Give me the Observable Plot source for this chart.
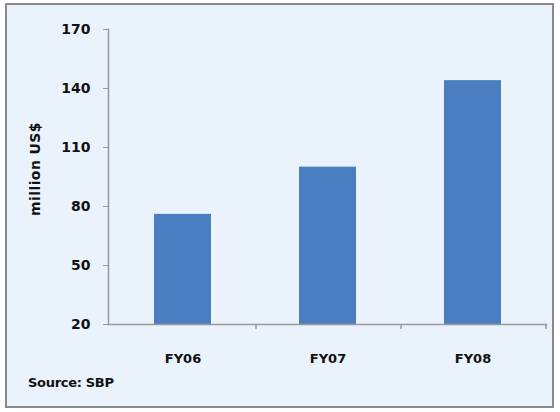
<!DOCTYPE html>
<html>
<head>
<meta charset="utf-8">
<script src="https://cdn.jsdelivr.net/npm/d3@7"></script>
<script src="https://cdn.jsdelivr.net/npm/@observablehq/plot@0.6"></script>
<style>
  html, body { margin: 0; padding: 0; background: #ffffff; }
  #wrap { position: relative; width: 560px; height: 412px; overflow: hidden; }
  #panel { position: absolute; left: 5px; top: 3px; width: 545px; height: 401px;
           border: 2px solid #8a8a8a; background: #eaf2fb; }
  #chart { position: absolute; left: 0; top: 0; }
  #source { position: absolute; left: 28px; top: 375px; font: bold 13px "DejaVu Sans", sans-serif;
            color: #111; letter-spacing: -0.3px; }
  #ylabel { position: absolute; left: 35px; top: 169px; transform: translate(-50%, -50%) rotate(-90deg);
            font: bold 14px "DejaVu Sans", sans-serif; color: #111; white-space: nowrap; letter-spacing: 0.4px; }
</style>
</head>
<body>
<div id="wrap">
  <div id="panel"></div>
  <div id="chart"></div>
  <div id="ylabel">million US$</div>
  <div id="source">Source: SBP</div>
</div>
<script>
const categories = ["FY06", "FY07", "FY08"];
const values = [76, 100, 144];
const yTicks = [20, 50, 80, 110, 140, 170];

const data = categories.map((c, i) => ({cat: c, value: values[i]}));

const W = 560, H = 412, mL = 108, mR = 14, mT = 29, mB = 88;
const step = (W - mL - mR) / categories.length;
const tickUnits = 5 * (170 - 20) / (H - mT - mB);

const plot = Plot.plot({
  width: W,
  height: H,
  marginLeft: mL,
  marginRight: mR,
  marginTop: mT,
  marginBottom: mB,
  style: { background: "transparent", fontFamily: "DejaVu Sans, sans-serif" },
  x: { domain: categories, paddingInner: 0.61, paddingOuter: 0.31, align: 0.5, label: null },
  y: { domain: [20, 170], label: null },
  marks: [
    Plot.barY(data, { x: "cat", y1: 20, y2: "value", fill: "#4a7ec0" }),
    Plot.axisY({ ticks: yTicks, tickSize: 5, tickPadding: 13, stroke: "#999", fill: "#111",
                 fontSize: 14, fontWeight: "bold", label: null }),
    Plot.axisX({ tickSize: 0, tickPadding: 29, fill: "#111", fontSize: 13, fontWeight: "bold", label: null }),
    Plot.ruleX(categories, { x: d => d, dx: step / 2, y1: 20, y2: 20 - tickUnits, stroke: "#999", strokeWidth: 1.5 }),
    Plot.frame({ anchor: "left", stroke: "#999", strokeWidth: 1.5 }),
    Plot.frame({ anchor: "bottom", stroke: "#999", strokeWidth: 1.5 })
  ]
});
document.getElementById("chart").appendChild(plot);
</script>
</body>
</html>
